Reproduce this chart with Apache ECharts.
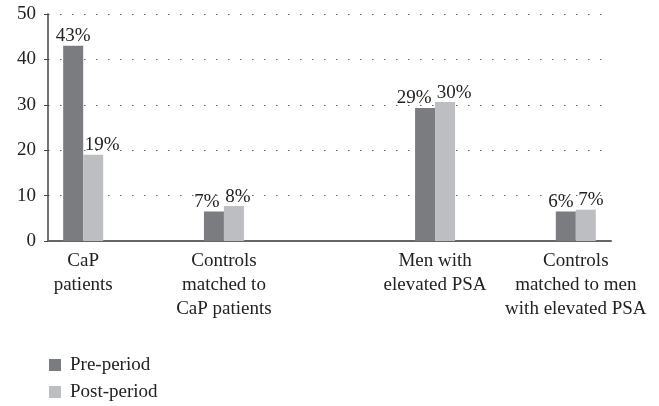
<!DOCTYPE html>
<html>
<head>
<meta charset="utf-8">
<script src="https://cdn.jsdelivr.net/npm/echarts@6/dist/echarts.min.js"></script>
<style>
  html, body { margin: 0; padding: 0; background: #fff; }
  #chart { width: 659px; height: 406px; }
</style>
</head>
<body>
<div id="chart"></div>
<script>
// slots on the x axis: groups sit at 0, 2, 5 and 7, the rest are empty gaps
var slotCount = 8;
var groupSlots = [0, 2, 5, 7];
var groupNames = ['CaP\npatients', 'Controls\nmatched to\nCaP patients', 'Men with\nelevated PSA', 'Controls\nmatched to men\nwith elevated PSA'];
var preValues = [43, 6.5, 29.3, 6.5];
var postValues = [19, 7.7, 30.6, 6.9];
var preLabels = ['43%', '7%', '29%', '6%'];
var postLabels = ['19%', '8%', '30%', '7%'];
var yTicks = [0, 10, 20, 30, 40, 50];

// horizontal nudges of the value labels so neighbours don't collide
var preShift = [0, -7, -11, -5];
var postShift = [9, 4, 9, 5];

var serif = '"Liberation Serif", "DejaVu Serif", serif';

function spread(arr, empty) {
    var out = [];
    for (var i = 0; i < slotCount; i++) out.push(empty);
    groupSlots.forEach(function (s, k) { out[s] = arr[k]; });
    return out;
}

function barData(values, labels, shifts) {
    var items = values.map(function (v, k) {
        return { value: v, label: { formatter: labels[k], offset: [shifts[k], 0] } };
    });
    return spread(items, '-');
}

var categories = spread(groupNames, '');

var myChart = echarts.init(document.getElementById('chart'));

var valueLabel = {
    show: true,
    position: 'top',
    distance: 0,
    fontFamily: serif,
    fontSize: 19,
    color: '#222'
};

myChart.setOption({
    animation: false,
    textStyle: { fontFamily: serif },
    grid: { left: 48, right: 48, top: 14, bottom: 165 },
    legend: {
        orient: 'vertical',
        left: 49,
        top: 355,
        height: 60,
        padding: 0,
        itemWidth: 12,
        itemHeight: 12,
        itemGap: 7,
        icon: 'rect',
        textStyle: { fontFamily: serif, fontSize: 19, lineHeight: 20, color: '#222', padding: [0, 0, 0, 4] },
        data: ['Pre-period', 'Post-period']
    },
    xAxis: {
        type: 'category',
        data: categories,
        axisLine: { lineStyle: { color: '#666', width: 2 } },
        axisTick: { show: false },
        axisLabel: {
            interval: 0,
            hideOverlap: false,
            margin: 8,
            fontFamily: serif,
            fontSize: 19,
            lineHeight: 24,
            color: '#222'
        }
    },
    yAxis: {
        type: 'value',
        min: yTicks[0],
        max: yTicks[yTicks.length - 1],
        interval: 10,
        axisLine: { show: true, lineStyle: { color: '#444', width: 1.5 } },
        axisTick: { show: true, length: 4, lineStyle: { color: '#444' } },
        axisLabel: { fontFamily: serif, fontSize: 19, color: '#222', margin: 12 },
        splitLine: { show: true, lineStyle: { color: '#666', type: [1.5, 10.5], width: 1.2 } }
    },
    series: [
        {
            name: 'Pre-period',
            type: 'bar',
            data: barData(preValues, preLabels, preShift),
            barWidth: 20,
            barGap: '0%',
            itemStyle: { color: '#7b7c80' },
            label: valueLabel
        },
        {
            name: 'Post-period',
            type: 'bar',
            data: barData(postValues, postLabels, postShift),
            barWidth: 20,
            itemStyle: { color: '#bdbec2' },
            label: valueLabel
        }
    ]
});

window.addEventListener('resize', function () {
    myChart.resize();
});
</script>
</body>
</html>
